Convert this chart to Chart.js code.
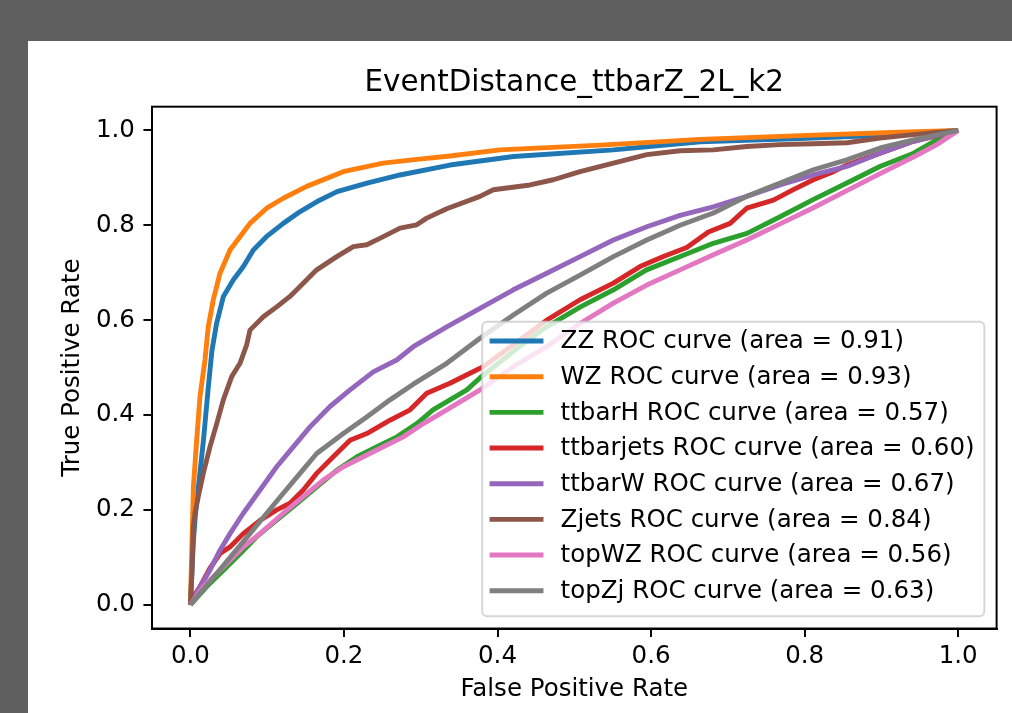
<!DOCTYPE html>
<html>
<head>
<meta charset="utf-8">
<script src="https://cdn.jsdelivr.net/npm/chart.js@4.4.1/dist/chart.umd.min.js"></script>
<style>
html,body{margin:0;padding:0;background:#5f5f5f;}
canvas{display:block;}
</style>
</head>
<body>
<canvas id="c" width="1012" height="713"></canvas>
<script>
// ---------------- data ----------------
const chartTitle = 'EventDistance_ttbarZ_2L_k2';
const xAxisLabel = 'False Positive Rate';
const yAxisLabel = 'True Positive Rate';
const tickValues = [0, 0.2, 0.4, 0.6, 0.8, 1.0];

const seriesNames = ['ZZ', 'WZ', 'ttbarH', 'ttbarjets', 'ttbarW', 'Zjets', 'topWZ', 'topZj'];
const seriesAreas = ['0.91', '0.93', '0.57', '0.60', '0.67', '0.84', '0.56', '0.63'];

const zzFpr = [0, 0.002, 0.004, 0.0065, 0.010, 0.017, 0.023, 0.028, 0.034, 0.043, 0.056, 0.069, 0.082, 0.099, 0.121, 0.143, 0.165, 0.191, 0.230, 0.273, 0.338, 0.421, 0.551, 0.664, 0.794, 0.924, 1];
const zzTpr = [0, 0.07, 0.136, 0.19, 0.242, 0.347, 0.453, 0.535, 0.592, 0.650, 0.685, 0.713, 0.748, 0.776, 0.804, 0.829, 0.850, 0.871, 0.889, 0.906, 0.927, 0.945, 0.959, 0.976, 0.983, 0.991, 1];

const wzFpr = [0, 0.0017, 0.004, 0.0082, 0.0125, 0.019, 0.0233, 0.0298, 0.0386, 0.0516, 0.0646, 0.0776, 0.0994, 0.121, 0.1515, 0.199, 0.251, 0.295, 0.338, 0.403, 0.534, 0.664, 0.794, 0.924, 1];
const wzTpr = [0, 0.109, 0.25, 0.347, 0.439, 0.516, 0.586, 0.643, 0.699, 0.748, 0.776, 0.804, 0.836, 0.857, 0.882, 0.913, 0.931, 0.939, 0.946, 0.959, 0.969, 0.981, 0.989, 0.996, 1];

const ttbarHFpr = [0, 0.021, 0.043, 0.065, 0.086, 0.112, 0.139, 0.165, 0.191, 0.217, 0.243, 0.269, 0.295, 0.316, 0.338, 0.360, 0.377, 0.429, 0.464, 0.508, 0.551, 0.594, 0.638, 0.681, 0.725, 0.768, 0.811, 0.855, 0.898, 0.942, 0.972, 1];
const ttbarHTpr = [0, 0.038, 0.073, 0.108, 0.143, 0.178, 0.214, 0.249, 0.284, 0.312, 0.333, 0.354, 0.382, 0.411, 0.432, 0.453, 0.478, 0.545, 0.586, 0.628, 0.664, 0.706, 0.734, 0.762, 0.783, 0.818, 0.854, 0.889, 0.924, 0.952, 0.980, 1];

const ttbarjetsFpr = [0, 0.004, 0.0125, 0.0255, 0.0386, 0.0516, 0.0689, 0.0907, 0.1124, 0.1297, 0.147, 0.1645, 0.1861, 0.2079, 0.2297, 0.26, 0.2861, 0.3078, 0.338, 0.3641, 0.3815, 0.4206, 0.4641, 0.5075, 0.5509, 0.5856, 0.616, 0.6465, 0.6746, 0.7029, 0.7246, 0.7593, 0.7853, 0.8114, 0.8375, 0.8549, 0.8983, 0.9417, 0.9677, 1];
const ttbarjetsTpr = [0, 0.017, 0.038, 0.077, 0.108, 0.122, 0.150, 0.178, 0.200, 0.214, 0.242, 0.277, 0.312, 0.347, 0.361, 0.389, 0.411, 0.446, 0.467, 0.488, 0.502, 0.548, 0.600, 0.643, 0.678, 0.713, 0.734, 0.753, 0.786, 0.804, 0.836, 0.853, 0.875, 0.896, 0.913, 0.927, 0.952, 0.977, 0.987, 1];

const ttbarWFpr = [0, 0.0125, 0.0255, 0.0386, 0.0516, 0.0689, 0.0907, 0.1124, 0.134, 0.1558, 0.1818, 0.2079, 0.2382, 0.2687, 0.2903, 0.3339, 0.3772, 0.4206, 0.4641, 0.5075, 0.5509, 0.5944, 0.6378, 0.6811, 0.7246, 0.768, 0.8114, 0.8549, 0.8983, 0.9417, 1];
const ttbarWTpr = [0, 0.038, 0.073, 0.115, 0.150, 0.193, 0.242, 0.291, 0.333, 0.375, 0.418, 0.453, 0.491, 0.516, 0.544, 0.586, 0.625, 0.664, 0.699, 0.734, 0.769, 0.797, 0.821, 0.839, 0.861, 0.885, 0.906, 0.924, 0.952, 0.977, 1];

const zjetsFpr = [0, 0.002, 0.0038, 0.006, 0.0103, 0.0168, 0.0255, 0.0343, 0.0429, 0.0538, 0.0646, 0.0733, 0.0776, 0.095, 0.1124, 0.1297, 0.147, 0.1645, 0.1906, 0.2122, 0.2297, 0.2513, 0.273, 0.2948, 0.3078, 0.3339, 0.3772, 0.3946, 0.4424, 0.4727, 0.5075, 0.5509, 0.5944, 0.6378, 0.6811, 0.7246, 0.768, 0.8114, 0.8549, 0.8983, 0.9417, 1];
const zjetsTpr = [0, 0.067, 0.164, 0.193, 0.228, 0.277, 0.333, 0.382, 0.432, 0.481, 0.509, 0.548, 0.579, 0.607, 0.628, 0.650, 0.678, 0.706, 0.734, 0.755, 0.759, 0.776, 0.794, 0.801, 0.815, 0.835, 0.861, 0.875, 0.885, 0.896, 0.913, 0.931, 0.949, 0.957, 0.959, 0.966, 0.970, 0.972, 0.974, 0.984, 0.991, 1];

const topWZFpr = [0, 0.0168, 0.0343, 0.0516, 0.0689, 0.0907, 0.121, 0.147, 0.1731, 0.1992, 0.2252, 0.2513, 0.2773, 0.3034, 0.3339, 0.3555, 0.3772, 0.4206, 0.4641, 0.5075, 0.5509, 0.5944, 0.6378, 0.6811, 0.7246, 0.768, 0.8114, 0.8549, 0.8983, 0.9417, 0.9721, 1];
const topWZTpr = [0, 0.038, 0.066, 0.094, 0.122, 0.150, 0.193, 0.228, 0.263, 0.291, 0.312, 0.333, 0.354, 0.382, 0.411, 0.432, 0.453, 0.502, 0.544, 0.593, 0.636, 0.674, 0.706, 0.738, 0.769, 0.803, 0.837, 0.873, 0.909, 0.944, 0.970, 1];

const topZjFpr = [0, 0.0125, 0.0343, 0.0559, 0.0776, 0.0994, 0.121, 0.1428, 0.1645, 0.1992, 0.2297, 0.26, 0.2903, 0.3339, 0.3772, 0.4206, 0.4641, 0.5075, 0.5509, 0.5944, 0.6378, 0.6811, 0.7246, 0.768, 0.8114, 0.8549, 0.8983, 0.9417, 1];
const topZjTpr = [0, 0.024, 0.066, 0.108, 0.150, 0.193, 0.235, 0.277, 0.319, 0.361, 0.396, 0.432, 0.465, 0.509, 0.562, 0.611, 0.657, 0.695, 0.734, 0.769, 0.800, 0.826, 0.861, 0.889, 0.917, 0.938, 0.963, 0.980, 1];

// ---------------- styles ----------------
const seriesColors = ['#1f77b4', '#ff7f0e', '#2ca02c', '#d62728', '#9467bd', '#8c564b', '#e377c2', '#7f7f7f'];
const FONT = 'DejaVu Sans';
const S = 2.45;              // px per point
const baseSize = 10 * S;     // 24.5 px
const titleSize = 12 * S;    // 29.4 px

const fprs = [zzFpr, wzFpr, ttbarHFpr, ttbarjetsFpr, ttbarWFpr, zjetsFpr, topWZFpr, topZjFpr];
const tprs = [zzTpr, wzTpr, ttbarHTpr, ttbarjetsTpr, ttbarWTpr, zjetsTpr, topWZTpr, topZjTpr];

const datasets = seriesNames.map((name, i) => ({
  label: `${name} ROC curve (area = ${seriesAreas[i]})`,
  data: fprs[i].map((x, j) => ({x: x, y: tprs[i][j]})),
  borderColor: seriesColors[i],
  backgroundColor: seriesColors[i],
  borderWidth: 2 * S,
  pointRadius: 0,
  pointHoverRadius: 0,
  tension: 0,
  fill: false,
  borderJoinStyle: 'round',
  order: seriesNames.length - i
}));

Chart.defaults.font.family = FONT;
Chart.defaults.color = '#000';

const bgPlugin = {
  id: 'bgPlugin',
  beforeDraw(chart) {
    const c = chart.ctx;
    c.save();
    c.fillStyle = '#5f5f5f';
    c.fillRect(0, 0, chart.width, chart.height);
    c.fillStyle = '#ffffff';
    c.fillRect(28, 41, chart.width - 28, chart.height - 41);
    c.restore();
  }
};

const framePlugin = {
  id: 'framePlugin',
  afterDatasetsDraw(chart) {
    const {left, top, right, bottom} = chart.chartArea;
    const c = chart.ctx;
    c.save();
    c.strokeStyle = '#000';
    c.lineWidth = 0.8 * S;
    c.lineJoin = 'miter';
    c.strokeRect(left, top, right - left, bottom - top);
    c.restore();
  }
};

function roundRect(c, x, y, w, h, r) {
  c.beginPath();
  c.moveTo(x + r, y);
  c.lineTo(x + w - r, y);
  c.arcTo(x + w, y, x + w, y + r, r);
  c.lineTo(x + w, y + h - r);
  c.arcTo(x + w, y + h, x + w - r, y + h, r);
  c.lineTo(x + r, y + h);
  c.arcTo(x, y + h, x, y + h - r, r);
  c.lineTo(x, y + r);
  c.arcTo(x, y, x + r, y, r);
  c.closePath();
}

const legendPlugin = {
  id: 'mplLegend',
  afterDraw(chart) {
    const c = chart.ctx;
    const area = chart.chartArea;
    const fs = baseSize;
    c.save();
    c.font = `${fs}px "${FONT}"`;
    const labels = chart.data.datasets.map(d => d.label);
    let maxW = 0;
    labels.forEach(l => { maxW = Math.max(maxW, c.measureText(l).width); });
    const pad = 0.4 * fs, handleLen = 2 * fs, textPad = 0.8 * fs, axPad = 0.5 * fs;
    const rowStep = 35.67;
    const boxW = pad + handleLen + textPad + maxW + pad;
    const boxH = 294.5;
    const x1 = area.right - axPad, y1 = area.bottom - axPad;
    const x0 = x1 - boxW, y0 = y1 - boxH;
    roundRect(c, x0, y0, boxW, boxH, 0.2 * fs);
    c.fillStyle = 'rgba(255,255,255,0.8)';
    c.fill();
    c.strokeStyle = 'rgba(204,204,204,0.8)';
    c.lineWidth = 1.0 * S * 0.8;
    c.stroke();
    const hx0 = x0 + pad, hx1 = hx0 + handleLen, tx = hx1 + textPad;
    chart.data.datasets.forEach((d, i) => {
      const ry = y0 + 19.3 + i * rowStep;
      c.beginPath();
      c.moveTo(hx0, ry);
      c.lineTo(hx1, ry);
      c.strokeStyle = d.borderColor;
      c.lineWidth = 2 * S;
      c.lineCap = 'square';
      c.stroke();
      c.fillStyle = '#000';
      c.textBaseline = 'middle';
      c.textAlign = 'left';
      c.fillText(d.label, tx, ry + 1);
    });
    c.restore();
  }
};

function fixedTicks(scale) {
  scale.ticks = tickValues.map(v => ({value: v}));
}

const axisCommon = (isX) => ({
  type: 'linear',
  min: -0.05,
  max: 1.05,
  afterBuildTicks: fixedTicks,
  grid: {
    display: true,
    drawOnChartArea: false,
    drawTicks: true,
    tickLength: 3.5 * S,
    tickColor: '#000',
    tickWidth: 0.8 * S,
    color: '#000',
    lineWidth: 0.8 * S
  },
  border: {display: true, color: '#000', width: 0.8 * S},
  ticks: {
    color: '#000',
    font: {family: FONT, size: baseSize},
    padding: isX ? 4.9 : 3.5 * S,
    maxRotation: 0,
    autoSkip: false,
    callback: v => Number(v).toFixed(1)
  }
});

const xAxis = Object.assign(axisCommon(true), {
  position: 'bottom',
  title: {display: true, text: xAxisLabel, color: '#000', font: {family: FONT, size: baseSize}, padding: {top: 0, bottom: 8.3}},
  afterFit: s => { s.height = 84.5; }
});
const yAxis = Object.assign(axisCommon(false), {
  position: 'left',
  title: {display: true, text: yAxisLabel, color: '#000', font: {family: FONT, size: baseSize}, padding: {top: 58.3, bottom: 0}},
  afterFit: s => { s.width = 152; }
});

new Chart(document.getElementById('c'), {
  type: 'line',
  data: {datasets: datasets},
  options: {
    responsive: false,
    devicePixelRatio: 1,
    animation: false,
    events: [],
    layout: {padding: {left: 0, right: 15.4, top: 0, bottom: 0}},
    plugins: {
      legend: {display: false},
      tooltip: {enabled: false},
      title: {
        display: true,
        text: chartTitle,
        fullSize: false,
        color: '#000',
        font: {family: FONT, size: titleSize, weight: 'normal'},
        padding: {top: 65.9, bottom: 5.5}
      }
    },
    scales: {x: xAxis, y: yAxis}
  },
  plugins: [bgPlugin, framePlugin, legendPlugin]
});
</script>
</body>
</html>
